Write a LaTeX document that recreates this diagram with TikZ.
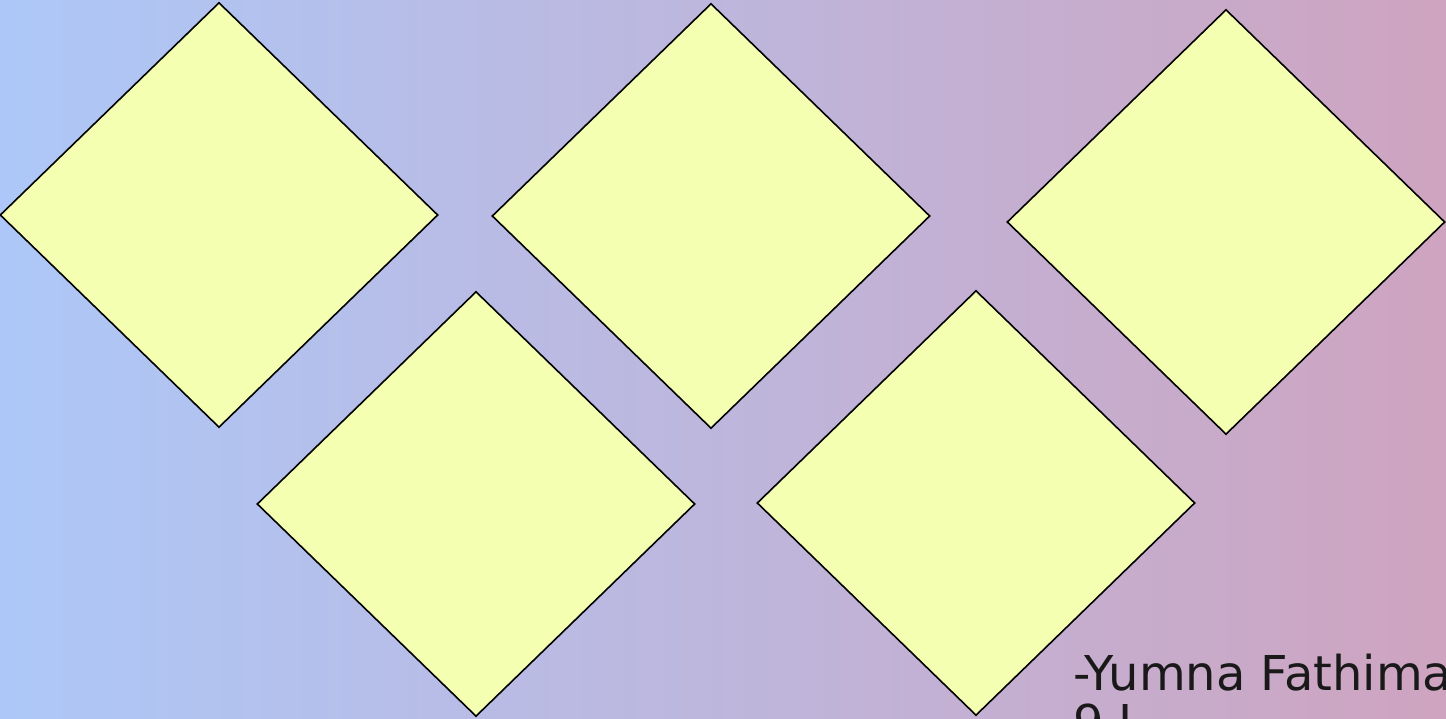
\documentclass[tikz,border=0pt]{standalone}
\usepackage{fontspec}
\setmainfont{DejaVu Sans}
\usepackage{tikz}
\usetikzlibrary{shapes.geometric}
\definecolor{skyleft}{HTML}{ADC8F8}
\definecolor{lilacmid}{HTML}{B2B4E3}
\definecolor{mauveright}{HTML}{CEA4C0}
\definecolor{lemon}{HTML}{F5FFB2}
\tikzset{
  tile/.style={
    diamond, draw=black, fill=lemon, line width=1.6pt,
    minimum width=438pt, minimum height=425pt, inner sep=0pt,
    shape aspect=1.03
  },
  signature/.style={
    font=\fontsize{48}{49}\selectfont, color=black!90, align=left,
    inner sep=0pt, anchor=base west
  },
}
\begin{document}
\begin{tikzpicture}[x=1pt,y=-1pt]
  % Background
  \useasboundingbox (0,0) rectangle (1446,719);
  \shade[left color=skyleft, middle color=lilacmid, right color=mauveright]
    (0,0) rectangle (1446,719);

  % Top row
  \node[tile] (d1) at (219,215) {};
  \node[tile] (d2) at (711,216) {};
  \node[tile] (d3) at (1226,222) {};

  % Bottom row
  \node[tile] (d4) at (476,504) {};
  \node[tile] (d5) at (976,503) {};

  % Signature
  \node[signature] (sig) at (1073,739) {-Yumna Fathima\\9 J};
\end{tikzpicture}
\end{document}
